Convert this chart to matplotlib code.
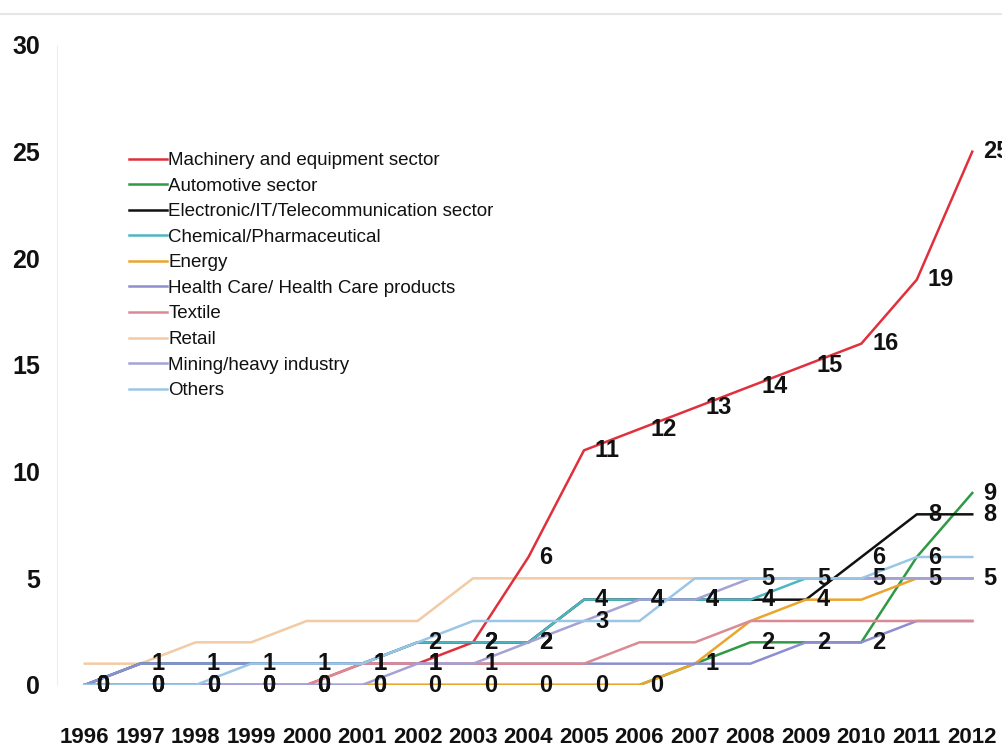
import numpy as np
import matplotlib.pyplot as plt
from matplotlib.lines import Line2D

plt.rcParams['font.family'] = ['Liberation Sans', 'DejaVu Sans']

years = list(range(1996, 2013))

machinery  = [0, 0, 0, 0, 0, 1, 1, 2, 6, 11, 12, 13, 14, 15, 16, 19, 25]
automotive = [0, 0, 0, 0, 0, 0, 0, 0, 0, 0, 0, 1, 2, 2, 2, 6, 9]
electronic = [0, 1, 1, 1, 1, 1, 2, 2, 2, 4, 4, 4, 4, 4, 6, 8, 8]
chemical   = [0, 1, 1, 1, 1, 1, 2, 2, 2, 4, 4, 4, 4, 5, 5, 5, 5]
energy     = [0, 0, 0, 0, 0, 0, 0, 0, 0, 0, 0, 1, 3, 4, 4, 5, 5]
healthcare = [0, 1, 1, 1, 1, 1, 1, 1, 1, 1, 1, 1, 1, 2, 2, 3, 3]
textile    = [0, 0, 0, 0, 0, 1, 1, 1, 1, 1, 2, 2, 3, 3, 3, 3, 3]
retail     = [1, 1, 2, 2, 3, 3, 3, 5, 5, 5, 5, 5, 5, 5, 5, 5, 5]
mining     = [0, 0, 0, 0, 0, 0, 1, 1, 2, 3, 4, 4, 5, 5, 5, 5, 5]
others     = [0, 0, 0, 1, 1, 1, 2, 3, 3, 3, 3, 5, 5, 5, 5, 6, 6]

series = [
    ("Machinery and equipment sector", machinery, '#e0303c', True),
    ("Automotive sector", automotive, '#2e9a44', True),
    ("Electronic/IT/Telecommunication sector", electronic, '#111111', True),
    ("Chemical/Pharmaceutical", chemical, '#4db6c0', False),
    ("Energy", energy, '#eaa52c', False),
    ("Health Care/ Health Care products", healthcare, '#8c8ed0', False),
    ("Textile", textile, '#da8a92', False),
    ("Retail", retail, '#f2cba4', False),
    ("Mining/heavy industry", mining, '#a4a2d4', True),
    ("Others", others, '#9cc6e6', False),
]

fig = plt.figure(figsize=(10.03, 7.56), dpi=100)
ax = fig.add_axes([57/1003, 71/756, 943/1003, 640/756])

for i, (name, vals, col, lab) in enumerate(series):
    z = 1 if name == "Retail" else 2 + i * 0.1
    ax.plot(years, vals, color=col, lw=1.8, label=name, zorder=z)

# value labels to the right of each point
for name, vals, col, lab in series:
    if not lab:
        continue
    for yr, v in zip(years, vals):
        ax.annotate(str(v), (yr, v), xytext=(11, 0), textcoords='offset pixels',
                    ha='left', va='center', fontsize=17, fontweight='bold',
                    color='#111111', annotation_clip=False, zorder=5)

ax.set_xlim(1995.5, 2012.5)
ax.set_ylim(0, 30)
ax.set_xticks(years)
ax.set_xticklabels([str(y) for y in years], fontweight='bold')
ax.set_yticks(range(0, 31, 5))
ax.set_yticklabels([str(v) for v in range(0, 31, 5)], fontweight='bold')
ax.tick_params(axis='x', length=0, pad=30, labelsize=16, labelcolor='#111111')
ax.tick_params(axis='y', length=0, pad=12, labelsize=18, labelcolor='#111111')
for s in ['top', 'right', 'bottom']:
    ax.spines[s].set_visible(False)
ax.spines['left'].set_color('#eeeeee')

ax.legend(loc='upper left', bbox_to_anchor=(129/1003, 1 - 152/756),
          bbox_transform=fig.transFigure, frameon=False, fontsize=13.5,
          handlelength=2.0, handletextpad=0.1, labelspacing=0.45,
          borderpad=0, borderaxespad=0, labelcolor='#111111')

fig.add_artist(Line2D([0, 1], [1 - 14/756] * 2, color='#e6e6e6', lw=1.5))

fig.savefig('out.png', dpi=100)
